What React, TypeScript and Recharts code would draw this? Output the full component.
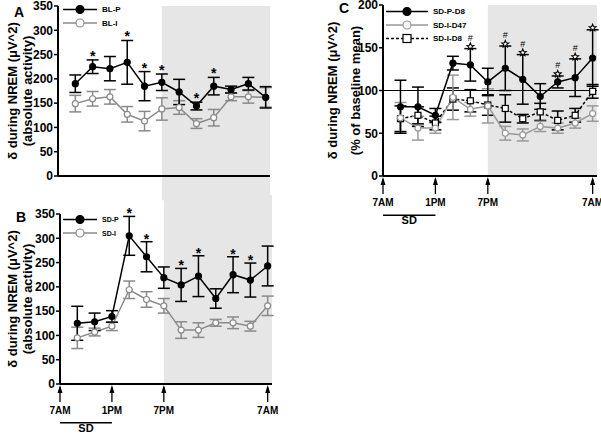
import React from "react";
import {
  ComposedChart,
  Line,
  Scatter,
  ErrorBar,
  XAxis,
  YAxis,
  ReferenceArea,
  ReferenceLine,
  Legend,
} from "recharts";

const FONT = "'Liberation Sans', Arial, sans-serif";

// bins: hours after 7AM
const hours = [2, 4, 6, 8, 10, 12, 14, 16, 18, 20, 22, 24];
const hourTicks = [0, 2, 4, 6, 8, 10, 12, 14, 16, 18, 20, 22, 24];
const clockTicks = [0, 6, 12, 24];
const clockLabels = ["7AM", "1PM", "7PM", "7AM"];

// Panel A - baseline
const blP = [190, 225, 221, 234, 185, 193, 173, 144, 185, 178, 190, 162];
const blPErr = [18, 14, 25, 45, 30, 17, 26, 8, 18, 7, 13, 22];
const blI = [149, 159, 163, 127, 113, 138, 141, 108, 120, 163, 163, 162];
const blIErr = [17, 15, 15, 16, 20, 23, 14, 10, 17, 8, 13, 20];
const blSig = [0, 1, 0, 1, 1, 1, 0, 1, 1, 0, 0, 0];

// Panel B - sleep deprivation
const sdP = [125, 128, 139, 305, 262, 219, 204, 222, 176, 225, 214, 243];
const sdPErr = [35, 18, 12, 40, 31, 22, 34, 42, 20, 37, 35, 41];
const sdI = [95, 107, 119, 194, 174, 161, 111, 111, 126, 126, 119, 161];
const sdIErr = [22, 8, 9, 18, 16, 15, 17, 15, 7, 12, 10, 20];
const sdSig = [0, 0, 0, 1, 1, 0, 1, 1, 0, 1, 1, 0];

// Panel C - % of baseline mean
const cP = [81, 81, 71, 132, 130, 110, 126, 113, 93, 110, 115, 138];
const cPErr = [31, 23, 8, 8, 19, 16, 26, 29, 15, 7, 22, 33];
const cI47 = [68, 56, 56, 92, 78, 82, 50, 48, 58, 56, 62, 73];
const cI47Err = [18, 14, 6, 26, 8, 20, 8, 7, 6, 6, 6, 9];
const cI8 = [67, 71, 62, 90, 88, 83, 79, 67, 75, 65, 71, 99];
const cI8Err = [15, 10, 8, 13, 13, 12, 16, 5, 10, 11, 8, 8];
const cStar = [0, 0, 0, 0, 1, 0, 1, 1, 0, 1, 1, 1];
const cHash = [0, 0, 0, 0, 1, 0, 1, 1, 0, 1, 1, 0];

type Series = {
  key: string;
  name: string;
  color: string;
  marker: "filled" | "open" | "square";
  dash?: string;
};

const rows = (cols: Record<string, number[]>) =>
  hours.map((h, i) => {
    const r: any = { h };
    Object.keys(cols).forEach((k) => (r[k] = cols[k][i]));
    return r;
  });

const marks = (vals: number[], errs: number[], sig: number[]) =>
  hours
    .map((h, i) => ({ h, y: vals[i] + errs[i], on: sig[i] }))
    .filter((d) => d.on);

const dataA = rows({ p: blP, pe: blPErr, i: blI, ie: blIErr });
const dataB = rows({ p: sdP, pe: sdPErr, i: sdI, ie: sdIErr });
const dataC = rows({ p: cP, pe: cPErr, i47: cI47, i47e: cI47Err, i8: cI8, i8e: cI8Err });

const seriesA: Series[] = [
  { key: "p", name: "BL-P", color: "#000", marker: "filled" },
  { key: "i", name: "BL-I", color: "#8a8a8a", marker: "open" },
];
const seriesB: Series[] = [
  { key: "p", name: "SD-P", color: "#000", marker: "filled" },
  { key: "i", name: "SD-I", color: "#8a8a8a", marker: "open" },
];
const seriesC: Series[] = [
  { key: "p", name: "SD-P-D8", color: "#000", marker: "filled" },
  { key: "i47", name: "SD-I-D47", color: "#999", marker: "open" },
  { key: "i8", name: "SD-I-D8", color: "#000", marker: "square", dash: "3 2" },
];

const markerDot = (s: Series) => (props: any) => {
  const { cx, cy, index } = props;
  if (cx == null || cy == null) return <g key={index} />;
  if (s.marker === "square")
    return (
      <rect key={index} x={cx - 3} y={cy - 3} width={6} height={6} fill="#fff" stroke={s.color} strokeWidth={1.2} />
    );
  return (
    <circle key={index} cx={cx} cy={cy} r={3} fill={s.marker === "filled" ? s.color : "#fff"} stroke={s.color} strokeWidth={1.2} />
  );
};

const glyph = (ch: string, size: number, dy: number, weight: string) => (props: any) => (
  <text x={props.cx} y={props.cy + dy} textAnchor="middle" fontSize={size} fontWeight={weight} fontFamily={FONT} fill="#000" stroke="none">
    {ch}
  </text>
);

// outlined five-point star used for the significance marks in panel C
const starShape = (dy: number) => (props: any) => {
  const cx = props.cx;
  const cy = props.cy + dy;
  const pts: string[] = [];
  for (let k = 0; k < 10; k++) {
    const r = k % 2 === 0 ? 3.6 : 1.6;
    const a = -Math.PI / 2 + (k * Math.PI) / 5;
    pts.push(`${cx + r * Math.cos(a)},${cy + r * Math.sin(a)}`);
  }
  return <polygon points={pts.join(" ")} fill="#fff" stroke="#000" strokeWidth={1.1} />;
};

const ArrowTick = (props: any) => {
  const { x, y, payload } = props;
  const label = clockLabels[clockTicks.indexOf(payload.value)];
  return (
    <g>
      <line x1={x} x2={x} y1={y + 3} y2={y + 18} stroke="#000" strokeWidth={1.3} />
      <path d={`M${x - 2.5},${y + 9} L${x},${y + 1} L${x + 2.5},${y + 9} Z`} fill="#000" />
      <text x={x} y={y + 30} textAnchor="middle" fontSize={10} fontWeight="bold" fontFamily={FONT} fill="#000">
        {label}
      </text>
    </g>
  );
};

const yTitle = (lines: string[], xs: number[]) => (props: any) => {
  const vb = props.viewBox;
  const cy = vb.y + vb.height / 2;
  return (
    <g>
      {lines.map((t, k) => (
        <text
          key={k}
          x={vb.x + xs[k]}
          y={cy}
          transform={`rotate(-90 ${vb.x + xs[k]} ${cy})`}
          textAnchor="middle"
          dominantBaseline="central"
          fontSize={13}
          fontWeight="bold"
          fontFamily={FONT}
          fill="#000"
        >
          {t}
        </text>
      ))}
    </g>
  );
};

const LegendRows = ({ items, len, rowH, font }: { items: Series[]; len: number; rowH: number; font: number }) => (
  <svg width={110} height={items.length * rowH + 6} style={{ display: "block" }}>
    {items.map((s, k) => {
      const y = 6.5 + k * rowH;
      const mx = len / 2;
      return (
        <g key={s.key}>
          <line x1={0} x2={len} y1={y} y2={y} stroke={s.color} strokeWidth={1.3} strokeDasharray={s.dash} />
          {s.marker === "square" ? (
            <rect x={mx - 4} y={y - 4} width={8} height={8} fill="#fff" stroke={s.color} strokeWidth={1.2} />
          ) : (
            <circle cx={mx} cy={y} r={4} fill={s.marker === "filled" ? s.color : "#fff"} stroke={s.color} strokeWidth={1.2} />
          )}
          <text x={len + 5} y={y} dominantBaseline="central" fontSize={font} fontWeight="bold" fontFamily={FONT} fill="#000">
            {s.name}
          </text>
        </g>
      );
    })}
  </svg>
);

type StarSet = { shape: (props: any) => React.ReactElement; pts: { h: number; y: number }[] };

type PanelProps = {
  left: number;
  top: number;
  width: number;
  height: number;
  margin: { top: number; right: number; left: number; bottom: number };
  axisWidth: number;
  xHeight: number;
  titles: string[];
  titleX: number[];
  yMax: number;
  yTicks: number[];
  data: any[];
  series: Series[];
  stars: StarSet[];
  clock: boolean;
  shade: [number, number];
  sdY?: number;
  refY?: number;
  legendAt: [number, number];
  legendLen: number;
  legendFont: number;
};

function Panel(p: PanelProps) {
  const tickStyle = { fill: "#000", fontSize: 12, fontWeight: "bold", fontFamily: FONT };
  const ordered = [...p.series].reverse();
  return (
    <div style={{ position: "absolute", left: p.left, top: p.top }}>
      <ComposedChart width={p.width} height={p.height} data={p.data} margin={p.margin}>
        <ReferenceArea x1={12} x2={24.5} y1={p.shade[0]} y2={p.shade[1]} fill="#e6e6e6" fillOpacity={1} stroke="none" ifOverflow="visible" />
        {p.refY != null && <ReferenceLine y={p.refY} stroke="#000" strokeWidth={1} />}
        {p.sdY != null && (
          <ReferenceLine
            segment={[{ x: 0, y: p.sdY }, { x: 6, y: p.sdY }]}
            stroke="#000"
            strokeWidth={1.5}
            ifOverflow="visible"
            label={{ value: "SD", position: "bottom", offset: 1, fill: "#000", fontSize: 11, fontWeight: "bold", fontFamily: FONT }}
          />
        )}
        <XAxis
          type="number"
          dataKey="h"
          domain={[0, 24.5]}
          ticks={p.clock ? clockTicks : hourTicks}
          axisLine={{ stroke: "#000", strokeWidth: 2 }}
          tickLine={p.clock ? false : { stroke: "#000", strokeWidth: 1.5 }}
          tickSize={p.clock ? 0 : 4}
          tickMargin={0}
          tick={p.clock ? <ArrowTick /> : false}
          interval={0}
          height={p.xHeight}
        />
        <YAxis
          type="number"
          domain={[0, p.yMax]}
          ticks={p.yTicks}
          width={p.axisWidth}
          axisLine={{ stroke: "#000", strokeWidth: 2 }}
          tickLine={{ stroke: "#000", strokeWidth: 1.5 }}
          tickSize={4}
          tickMargin={1}
          tick={tickStyle}
          interval={0}
          label={yTitle(p.titles, p.titleX)}
        />
        {ordered.map((s) => (
          <Line
            key={s.key}
            dataKey={s.key}
            name={s.name}
            type="linear"
            stroke={s.color}
            strokeWidth={1.5}
            strokeDasharray={s.dash}
            dot={markerDot(s)}
            activeDot={false}
            isAnimationActive={false}
          >
            <ErrorBar dataKey={s.key + "e"} direction="y" width={6} stroke={s.color} strokeWidth={1.5} />
          </Line>
        ))}
        {p.stars.map((st, k) => (
          <Scatter key={k} data={st.pts} dataKey="y" fill="#000" shape={st.shape} isAnimationActive={false} legendType="none" />
        ))}
        <Legend
          verticalAlign="middle"
          align="center"
          layout="horizontal"
          wrapperStyle={{ left: p.legendAt[0], top: p.legendAt[1], width: "auto" }}
          content={() => <LegendRows items={p.series} len={p.legendLen} rowH={13.5} font={p.legendFont} />}
        />
      </ComposedChart>
    </div>
  );
}

const letter = (ch: string, left: number, top: number) => (
  <div style={{ position: "absolute", left, top, fontFamily: FONT, fontWeight: "bold", fontSize: 14, lineHeight: "14px" }}>{ch}</div>
);

export default function App() {
  return (
    <div style={{ position: "absolute", left: 0, top: 0, width: 601, height: 435, background: "#fff", overflow: "hidden" }}>
      <Panel
        left={0}
        top={0}
        width={280}
        height={205}
        margin={{ top: 6, right: 10, left: 0, bottom: 0 }}
        axisWidth={58}
        xHeight={29}
        titles={["δ during NREM (μV^2)", "(absolute activity)"]}
        titleX={[12, 27]}
        yMax={350}
        yTicks={[0, 50, 100, 150, 200, 250, 300, 350]}
        data={dataA}
        series={seriesA}
        stars={[{ shape: glyph("*", 14, 1, "bold"), pts: marks(blP, blPErr, blSig) }]}
        clock={false}
        shade={[-50, 350]}
        legendAt={[63, 3]}
        legendLen={34}
        legendFont={8}
      />
      <Panel
        left={0}
        top={195}
        width={280}
        height={240}
        margin={{ top: 19, right: 8, left: 0, bottom: 0 }}
        axisWidth={60}
        xHeight={51}
        titles={["δ during NREM (μV^2)", "(absolute activity)"]}
        titleX={[12, 27]}
        yMax={350}
        yTicks={[0, 50, 100, 150, 200, 250, 300, 350]}
        data={dataB}
        series={seriesB}
        stars={[{ shape: glyph("*", 14, 2, "bold"), pts: marks(sdP, sdPErr, sdSig) }]}
        clock={true}
        shade={[0, 400]}
        sdY={-80}
        legendAt={[63, 18]}
        legendLen={34}
        legendFont={7}
      />
      <Panel
        left={300}
        top={0}
        width={301}
        height={230}
        margin={{ top: 5, right: 4, left: 0, bottom: 0 }}
        axisWidth={83}
        xHeight={54}
        titles={["δ during NREM (μV^2)", "(% of baseline mean)"]}
        titleX={[32, 55]}
        yMax={200}
        yTicks={[0, 50, 100, 150, 200]}
        data={dataC}
        series={seriesC}
        stars={[
          { shape: starShape(-2), pts: marks(cP, cPErr, cStar) },
          { shape: glyph("#", 9, -8, "normal"), pts: marks(cP, cPErr, cHash) },
        ]}
        clock={true}
        shade={[0, 200]}
        sdY={-46}
        refY={100}
        legendAt={[86, 5]}
        legendLen={42}
        legendFont={8}
      />
      {letter("A", 14, 5)}
      {letter("B", 16, 210)}
      {letter("C", 339, 1)}
    </div>
  );
}
